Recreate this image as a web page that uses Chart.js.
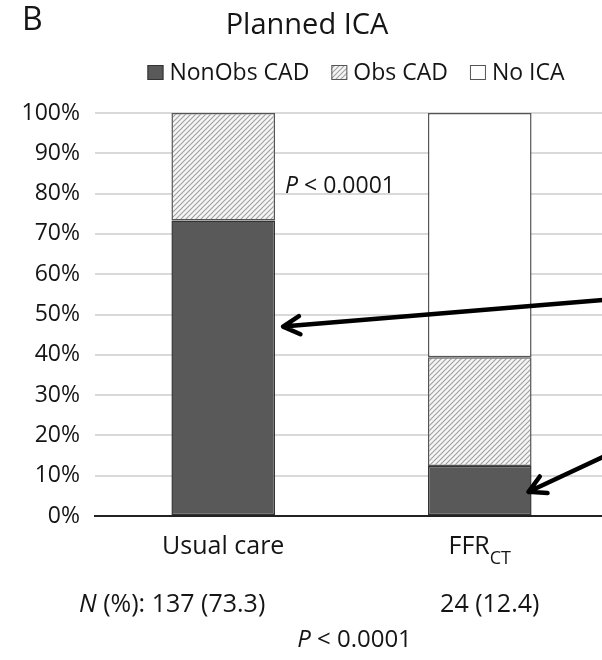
<!DOCTYPE html>
<html>
<head>
<meta charset="utf-8">
<script src="https://cdn.jsdelivr.net/npm/chart.js@4.4.0/dist/chart.umd.min.js"></script>
<style>
    html, body { margin: 0; padding: 0; background: #fff; overflow: hidden; }
    #wrap { width: 602px; height: 660px; overflow: hidden; position: relative; }
    /* the original figure runs on past the right edge, so the canvas does too */
    #box { width: 880px; height: 660px; position: absolute; left: 0; top: 0; }
</style>
</head>
<body>
<div id="wrap"><div id="box"><canvas id="ica-bars"></canvas></div></div>
<script>

// data (percent of patients)
const categories = ['Usual care', 'FFR', '']
const categorySubs = ['', 'CT', '']
const nonObsCad = [73.3, 12.4, null]
const obsCad = [26.7, 27.0, null]
const noIca = [null, 60.6, null]
const seriesNames = ['NonObs CAD', 'Obs CAD', 'No ICA']
const nCounts = ['137 (73.3)', '24 (12.4)']
const pText = '< 0.0001'
// arrows: target category, value pointed at, value where the arrow comes from
const arrowCats = [0, 1]
const arrowTo = [47, 6]
const arrowFrom = [55.3, 24.1]
const pInsideValue = 81.5

const FONT = "'Open Sans', sans-serif"
const INK = '#151515'

function hatch(){
    let s = 5
    let c = document.createElement('canvas')
    c.width = s; c.height = s
    let g = c.getContext('2d')
    g.fillStyle = '#f6f6f6'
    g.fillRect(0, 0, s, s)
    g.strokeStyle = '#a2a2a2'
    g.lineWidth = 1.2
    g.beginPath()
    g.moveTo(-1, s + 1); g.lineTo(s + 1, -1)
    g.moveTo(-1, 1); g.lineTo(1, -1)
    g.moveTo(s - 1, s + 1); g.lineTo(s + 1, s - 1)
    g.stroke()
    return g.createPattern(c, 'repeat')
}
const hatchFill = hatch()

function drawParts(ctx, parts, x, y, size){
    // parts: [text, italic]
    for(let p of parts){
        ctx.font = (p[1] ? 'italic ' : '') + size + 'px ' + FONT
        ctx.fillText(p[0], x, y)
        x += ctx.measureText(p[0]).width
    }
}
function partsWidth(ctx, parts, size){
    let w = 0
    for(let p of parts){
        ctx.font = (p[1] ? 'italic ' : '') + size + 'px ' + FONT
        w += ctx.measureText(p[0]).width
    }
    return w
}

function arrow(ctx, x0, y0, x1, y1){
    let a = Math.atan2(y1 - y0, x1 - x0)
    let h = 19
    ctx.beginPath()
    ctx.moveTo(x0, y0)
    ctx.lineTo(x1, y1)
    ctx.moveTo(x1 - h * Math.cos(a - 0.5), y1 - h * Math.sin(a - 0.5))
    ctx.lineTo(x1, y1)
    ctx.lineTo(x1 - h * Math.cos(a + 0.5), y1 - h * Math.sin(a + 0.5))
    ctx.stroke()
}

const figureText = {
    id: 'figureText',
    afterDraw(chart){
        const ctx = chart.ctx
        const x = chart.scales.x, y = chart.scales.y
        const half = chart.getDatasetMeta(0).data[0].width / 2
        const xc = categories.map((c, i) => x.getPixelForValue(i))
        ctx.save()
        ctx.fillStyle = INK
        ctx.textBaseline = 'alphabetic'
        ctx.textAlign = 'left'

        // panel letter and title
        ctx.font = '32px ' + FONT
        ctx.fillText('B', 22, 30)
        ctx.textAlign = 'center'
        ctx.font = '29px ' + FONT
        ctx.fillText('Planned ICA', 307, 34)

        // legend
        ctx.textAlign = 'left'
        ctx.font = '23px ' + FONT
        const fills = chart.data.datasets.map(d => d.backgroundColor)
        const borders = chart.data.datasets.map(d => d.borderColor)
        let box = 16, gap = 6, sep = 22
        let total = 0
        seriesNames.forEach((n, i) => { total += box + gap + ctx.measureText(n).width + (i ? sep : 0) })
        let lx = 356 - total / 2
        seriesNames.forEach((n, i) => {
            ctx.fillStyle = fills[i]
            ctx.fillRect(lx, 65, box, 15)
            ctx.strokeStyle = borders[i]
            ctx.lineWidth = 1
            ctx.strokeRect(lx + 0.5, 65.5, box - 1, 14)
            ctx.fillStyle = INK
            ctx.fillText(n, lx + box + gap, 80)
            lx += box + gap + ctx.measureText(n).width + sep
        })

        // category labels, FFR with subscript CT
        categories.forEach((c, i) => {
            if(!c) return
            ctx.font = '25px ' + FONT
            let w = ctx.measureText(c).width
            ctx.font = '18px ' + FONT
            let ws = categorySubs[i] ? ctx.measureText(categorySubs[i]).width : 0
            let sx = xc[i] - (w + ws) / 2
            ctx.font = '25px ' + FONT
            ctx.fillText(c, sx, 554)
            if(ws){
                ctx.font = '18px ' + FONT
                ctx.fillText(categorySubs[i], sx + w, 564)
            }
        })

        // N (%) row
        let first = [['N', true], [' (%): ' + nCounts[0], false]]
        drawParts(ctx, first, xc[0] + 42 - partsWidth(ctx, first, 25), 612, 25)
        let second = [[nCounts[1], false]]
        drawParts(ctx, second, xc[1] + 10 - partsWidth(ctx, second, 25) / 2, 612, 25)

        // P values
        let pp = [['P', true], [' ' + pText, false]]
        drawParts(ctx, pp, (xc[0] + xc[1]) / 2 + 3 - partsWidth(ctx, pp, 24) / 2, 647, 24)
        drawParts(ctx, pp, xc[0] + half + 10, y.getPixelForValue(pInsideValue) + 5, 23)

        // arrows
        ctx.strokeStyle = '#000'
        ctx.lineWidth = 4.5
        ctx.lineCap = 'round'
        ctx.lineJoin = 'round'
        arrowCats.forEach((c, i) => {
            let tipX = c === 0 ? xc[c] + half + 8 : xc[c] + half - 3
            arrow(ctx, xc[2] - half, y.getPixelForValue(arrowFrom[i]), tipX, y.getPixelForValue(arrowTo[i]))
        })
        ctx.restore()
    }
}

const icaBars = new Chart(
    document.getElementById('ica-bars').getContext('2d'),
    {
        type: 'bar',
        data: {
            labels: categories,
            datasets: [
                {label: seriesNames[0], data: nonObsCad, backgroundColor: '#595959', borderColor: '#333', borderWidth: 1.5, borderSkipped: false},
                {label: seriesNames[1], data: obsCad, backgroundColor: hatchFill, borderColor: '#555', borderWidth: 1.5, borderSkipped: false},
                {label: seriesNames[2], data: noIca, backgroundColor: '#ffffff', borderColor: '#555', borderWidth: 1.5, borderSkipped: false}
            ]
        },
        options: {
            responsive: true,
            maintainAspectRatio: false,
            animation: false,
            layout: {padding: {top: 113, bottom: 144, left: 0, right: 15.5}},
            datasets: {bar: {categoryPercentage: 1, barPercentage: 0.404}},
            scales: {
                x: {
                    stacked: true,
                    ticks: {display: false},
                    grid: {display: false},
                    border: {color: '#222', width: 2},
                    afterFit(s){ s.height = 0 }
                },
                y: {
                    stacked: true,
                    min: 0,
                    max: 100,
                    ticks: {
                        stepSize: 10,
                        padding: 15,
                        color: INK,
                        font: {family: FONT, size: 23},
                        callback: v => v + '%'
                    },
                    grid: {color: '#d9d9d9', lineWidth: 2, drawTicks: false},
                    border: {display: false},
                    afterFit(s){ s.width = 95 }
                }
            },
            plugins: {legend: {display: false}, title: {display: false}, tooltip: {enabled: false}}
        },
        plugins: [figureText]
    }
)

icaBars.update()
</script>
</body>
</html>
